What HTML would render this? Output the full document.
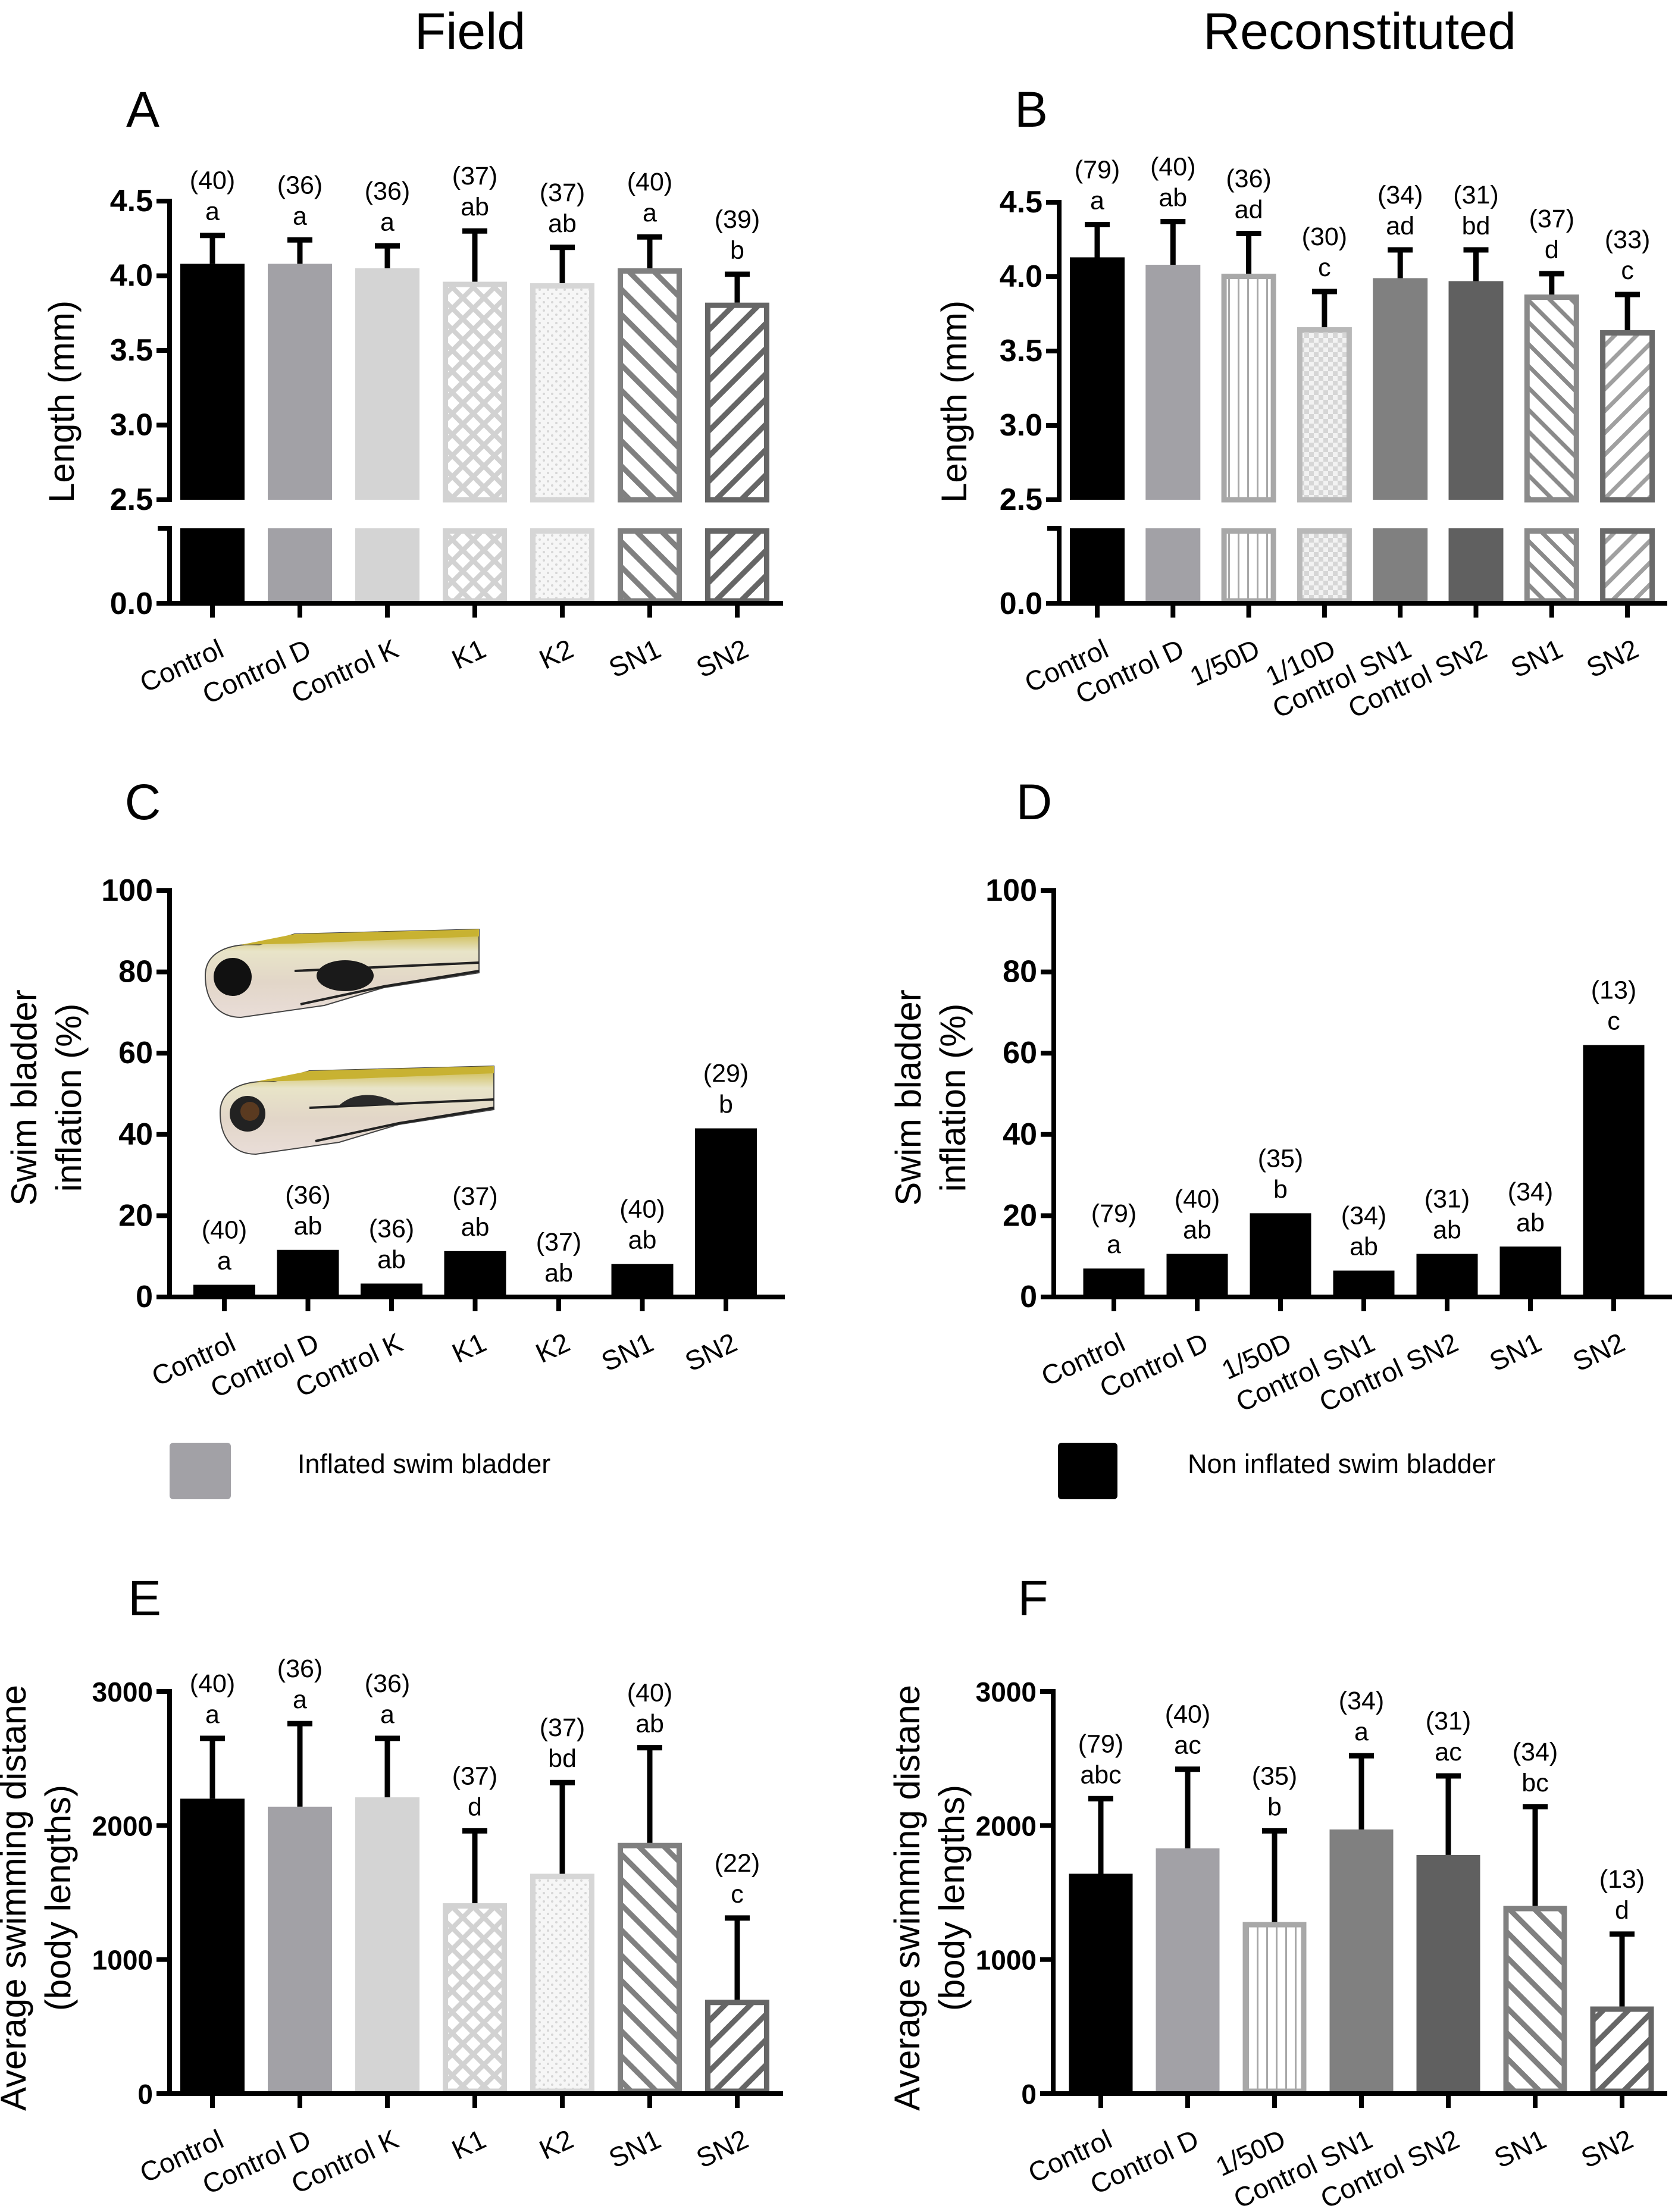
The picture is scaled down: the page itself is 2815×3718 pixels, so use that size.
<!DOCTYPE html>
<html><head><meta charset="utf-8"><title>Zebrafish larvae figure</title>
<style>
html,body{margin:0;padding:0;background:#fff;}
svg{display:block;font-family:"Liberation Sans",Arial,sans-serif;}
</style></head>
<body>
<svg id="fig" width="2815" height="3718" viewBox="0 0 2815 3718" xmlns="http://www.w3.org/2000/svg">
<defs>
<pattern id="pBack" patternUnits="userSpaceOnUse" width="30" height="30" patternTransform="rotate(-45)"><rect width="30" height="30" fill="#fff"/><rect x="0" y="0" width="9" height="30" fill="#808080"/></pattern>
<pattern id="pBackB" patternUnits="userSpaceOnUse" width="26" height="26" patternTransform="rotate(-45)"><rect width="26" height="26" fill="#fff"/><rect x="0" y="0" width="7" height="26" fill="#8a8a8a"/></pattern>
<pattern id="pFwd" patternUnits="userSpaceOnUse" width="30" height="30" patternTransform="rotate(45)"><rect width="30" height="30" fill="#fff"/><rect x="0" y="0" width="9" height="30" fill="#666"/></pattern>
<pattern id="pFwdB" patternUnits="userSpaceOnUse" width="26" height="26" patternTransform="rotate(45)"><rect width="26" height="26" fill="#fff"/><rect x="0" y="0" width="7" height="26" fill="#a0a0a0"/></pattern>
<pattern id="pCross" patternUnits="userSpaceOnUse" width="25" height="25" patternTransform="rotate(45)"><rect width="25" height="25" fill="#fff"/><rect x="0" y="0" width="8" height="25" fill="#d2d2d2"/><rect x="0" y="0" width="25" height="8" fill="#d2d2d2"/></pattern>
<pattern id="pDots" patternUnits="userSpaceOnUse" width="14" height="14"><rect width="14" height="14" fill="#f6f6f6"/><circle cx="4" cy="4" r="2" fill="#d6d6d6"/><circle cx="11" cy="11" r="2" fill="#d6d6d6"/></pattern>
<pattern id="pVert" patternUnits="userSpaceOnUse" width="16" height="16"><rect width="16" height="16" fill="#fff"/><rect x="0" y="0" width="3" height="16" fill="#a8a8a8"/></pattern>
<pattern id="pCheck" patternUnits="userSpaceOnUse" width="16" height="16"><rect width="16" height="16" fill="#f2f2f2"/><rect x="0" y="0" width="8" height="8" fill="#d6d6d6"/><rect x="8" y="8" width="8" height="8" fill="#d6d6d6"/></pattern>
<linearGradient id="gBody" x1="0" y1="0" x2="0" y2="1"><stop offset="0" stop-color="#c9b43a"/><stop offset="0.25" stop-color="#e8e4c8"/><stop offset="0.6" stop-color="#e2d6c8"/><stop offset="1" stop-color="#e9ddd8"/></linearGradient>
</defs>
</svg>
<script>
// ---------- Panel A data ----------
const A_cats = ["Control","Control D","Control K","K1","K2","SN1","SN2"];
const A_vals = [4.08,4.08,4.05,3.96,3.95,4.05,3.82];
const A_errTop = [4.27,4.24,4.20,4.30,4.19,4.26,4.01];
const A_ns = ["(40)","(36)","(36)","(37)","(37)","(40)","(39)"];
const A_letters = ["a","a","a","ab","ab","a","b"];
const A_ticks = [2.5,3.0,3.5,4.0,4.5];
// ---------- Panel B data ----------
const B_cats = ["Control","Control D","1/50D","1/10D","Control SN1","Control SN2","SN1","SN2"];
const B_vals = [4.13,4.08,4.02,3.66,3.99,3.97,3.88,3.64];
const B_errTop = [4.35,4.37,4.29,3.90,4.18,4.18,4.02,3.88];
const B_ns = ["(79)","(40)","(36)","(30)","(34)","(31)","(37)","(33)"];
const B_letters = ["a","ab","ad","c","ad","bd","d","c"];
const B_ticks = [2.5,3.0,3.5,4.0,4.5];
// ---------- Panel C data ----------
const C_cats = ["Control","Control D","Control K","K1","K2","SN1","SN2"];
const C_vals = [3,11.6,3.3,11.3,0,8.1,41.5];
const C_ns = ["(40)","(36)","(36)","(37)","(37)","(40)","(29)"];
const C_letters = ["a","ab","ab","ab","ab","ab","b"];
const C_ticks = [0,20,40,60,80,100];
// ---------- Panel D data ----------
const D_cats = ["Control","Control D","1/50D","Control SN1","Control SN2","SN1","SN2"];
const D_vals = [7,10.6,20.6,6.5,10.6,12.4,62];
const D_ns = ["(79)","(40)","(35)","(34)","(31)","(34)","(13)"];
const D_letters = ["a","ab","b","ab","ab","ab","c"];
const D_ticks = [0,20,40,60,80,100];
// ---------- Panel E data ----------
const E_cats = ["Control","Control D","Control K","K1","K2","SN1","SN2"];
const E_vals = [2200,2140,2210,1420,1640,1870,700];
const E_errTop = [2650,2760,2650,1960,2320,2580,1310];
const E_ns = ["(40)","(36)","(36)","(37)","(37)","(40)","(22)"];
const E_letters = ["a","a","a","d","bd","ab","c"];
const E_ticks = [0,1000,2000,3000];
// ---------- Panel F data ----------
const F_cats = ["Control","Control D","1/50D","Control SN1","Control SN2","SN1","SN2"];
const F_vals = [1640,1830,1280,1970,1780,1400,650];
const F_errTop = [2200,2420,1960,2520,2370,2140,1190];
const F_ns = ["(79)","(40)","(35)","(34)","(31)","(34)","(13)"];
const F_letters = ["abc","ac","b","a","ac","bc","d"];
const F_ticks = [0,1000,2000,3000];

const S = {
  black:{fill:"#000"}, gray:{fill:"#a2a1a6"}, light:{fill:"#d4d4d4"},
  cross:{fill:"url(#pCross)",stroke:"#d2d2d2"}, dots:{fill:"url(#pDots)",stroke:"#d6d6d6"},
  back:{fill:"url(#pBack)",stroke:"#808080"}, fwd:{fill:"url(#pFwd)",stroke:"#666"},
  backB:{fill:"url(#pBackB)",stroke:"#8a8a8a"}, fwdB:{fill:"url(#pFwdB)",stroke:"#6a6a6a"},
  vert:{fill:"url(#pVert)",stroke:"#a8a8a8"}, check:{fill:"url(#pCheck)",stroke:"#b8b8b8"},
  mid:{fill:"#808080"}, dark:{fill:"#606060"}
};
const fieldStyles = [S.black,S.gray,S.light,S.cross,S.dots,S.back,S.fwd];

const NS = "http://www.w3.org/2000/svg";
const fig = document.getElementById('fig');
function mk(tag, attrs, parent){
  const e = document.createElementNS(NS, tag);
  for (const k in attrs) e.setAttribute(k, attrs[k]);
  (parent||fig).appendChild(e);
  return e;
}
function txt(str, attrs, parent){
  const t = mk('text', attrs, parent);
  t.textContent = str;
  return t;
}
function linScale(d0,d1,r0,r1){ return v => r0 + (v-d0)/(d1-d0)*(r1-r0); }

function drawChart(id, cfg, cats, vals, errTop, ns, letters, ticks, styles, tickFmt){
  const g = mk('g', {});
  
  
  const tfs = cfg.tickFont || 52;
  const y = cfg.broken ? linScale(2.5, 4.5, cfg.yLow, cfg.yHigh) : linScale(ticks[0], ticks[ticks.length-1], cfg.zero, cfg.yHigh);
  const base = cfg.broken ? cfg.yLow : cfg.zero;
  cats.forEach((c,i)=>{
    const cx = cfg.first + i*cfg.step;
    const st = styles[i];
    const x = cx - cfg.bw/2;
    const top = y(vals[i]);
    const segs = cfg.broken ? [[top, base],[cfg.breakTop, cfg.zero-4]] : [[top, cfg.zero-4]];
    segs.forEach(([t,b])=>{
      if (b - t <= 0.5) return;
      const r = st.stroke ? mk('rect',{x:x+4.5,y:t+4.5,width:cfg.bw-9,height:Math.max(0,b-t-4.5),fill:st.fill,stroke:st.stroke,'stroke-width':9}, g)
                          : mk('rect',{x:x,y:t,width:cfg.bw,height:b-t,fill:st.fill}, g);
      
      
    });
    let labelY = top;
    if (errTop){
      const et = y(errTop[i]);
      const eb = mk('path',{d:`M${cx} ${top} V${et} M${cx-21} ${et} H${cx+21}`,stroke:'#000','stroke-width':9,fill:'none'}, g);
      
      
      labelY = et;
    }
    const lt = txt(letters[i], {x:cx, y:labelY-26, 'font-size':43, 'text-anchor':'middle', fill:'#000'}, g);
    
    
    const nt = txt(ns[i], {x:cx, y:labelY-78, 'font-size':43, 'text-anchor':'middle', fill:'#000'}, g);
    
    
    const xt = mk('line',{x1:cx,y1:cfg.zero,x2:cx,y2:cfg.zero+24,stroke:'#000','stroke-width':8}, g);
    
    
    const xl = txt(c, {transform:`translate(${cx+22},${cfg.zero+88}) rotate(-25)`, 'font-size':46, 'text-anchor':'end', fill:'#000'}, g);
    
    
  });
  const xa = mk('line',{x1:cfg.ax-4,y1:cfg.zero,x2:cfg.axEnd,y2:cfg.zero,stroke:'#000','stroke-width':8}, g);
  
  
  const ya = mk('line',{x1:cfg.ax,y1:cfg.yHigh-4,x2:cfg.ax,y2:cfg.broken?cfg.yLow+4:cfg.zero,stroke:'#000','stroke-width':8}, g);
  
  
  if (cfg.broken){
    const yl = mk('path',{d:`M${cfg.ax} ${cfg.breakTop} V${cfg.zero} M${cfg.ax-20} ${cfg.breakTop} H${cfg.ax+4}`,stroke:'#000','stroke-width':8,fill:'none'}, g);
    
    
    const z = mk('line',{x1:cfg.ax-22,y1:cfg.zero,x2:cfg.ax,y2:cfg.zero,stroke:'#000','stroke-width':8}, g);
    
    
    const zl = txt('0.0', {x:cfg.ax-28, y:cfg.zero+18, 'font-size':tfs,'font-weight':'bold','text-anchor':'end'}, g);
    
    
  }
  ticks.forEach(t=>{
    const ty = y(t);
    const tk = mk('line',{x1:cfg.ax-22,y1:ty,x2:cfg.ax,y2:ty,stroke:'#000','stroke-width':8}, g);
    
    
    const tl = txt(tickFmt(t), {x:cfg.ax-28, y:ty+17, 'font-size':tfs,'font-weight':'bold','text-anchor':'end'}, g);
    
    
  });
  const yt = txt('', {transform:`translate(${cfg.titleX},${cfg.titleY}) rotate(-90)`, 'font-size':60,'text-anchor':'middle'}, g);
  
  
  cfg.title.forEach((line,k)=>{
    const ts = mk('tspan',{x:0, dy: k===0 ? (-(cfg.title.length-1)*29) : 75}, yt);
    ts.textContent = line;
  });
}
const f1 = v => v.toFixed(1);
const f0 = v => String(v);

drawChart('panel-a-chart', {broken:true, ax:285, axEnd:1316, first:357, step:147, bw:108, yHigh:338, yLow:840, breakTop:888, zero:1014, titleX:124, titleY:675, title:['Length (mm)']},
  A_cats, A_vals, A_errTop, A_ns, A_letters, A_ticks, fieldStyles, f1);
drawChart('panel-b-chart', {broken:true, ax:1780, axEnd:2802, first:1844, step:127.3, bw:92, yHigh:340, yLow:840, breakTop:888, zero:1014, titleX:1624, titleY:675, title:['Length (mm)']},
  B_cats, B_vals, B_errTop, B_ns, B_letters, B_ticks, [S.black,S.gray,S.vert,S.check,S.mid,S.dark,S.backB,S.fwdB], f1);
drawChart('panel-c-chart', {ax:285, axEnd:1319, first:377, step:140.5, bw:104, yHigh:1497, zero:2180, titleX:90, titleY:1845, title:['Swim bladder','inflation (%)']},
  C_cats, C_vals, null, C_ns, C_letters, C_ticks, C_cats.map(()=>S.black), f0);
drawChart('panel-d-chart', {ax:1771, axEnd:2810, first:1872, step:140, bw:103, yHigh:1497, zero:2180, titleX:1576, titleY:1845, title:['Swim bladder','inflation (%)']},
  D_cats, D_vals, null, D_ns, D_letters, D_ticks, D_cats.map(()=>S.black), f0);
drawChart('panel-e-chart', {ax:285, axEnd:1316, first:357, step:147, bw:108, yHigh:2843, zero:3519, tickFont:46, titleX:72, titleY:3190, title:['Average swimming distane','(body lengths)']},
  E_cats, E_vals, E_errTop, E_ns, E_letters, E_ticks, fieldStyles, f0);
drawChart('panel-f-chart', {ax:1770, axEnd:2802, first:1850, step:146, bw:107, yHigh:2843, zero:3519, tickFont:46, titleX:1574, titleY:3190, title:['Average swimming distane','(body lengths)']},
  F_cats, F_vals, F_errTop, F_ns, F_letters, F_ticks, [S.black,S.gray,S.vert,S.mid,S.dark,S.back,S.fwd], f0);

[['Field',790,82,'column-title-field'],['Reconstituted',2285,82,'column-title-reconstituted']].forEach(([s,x,yy,n])=>{
  const t = txt(s,{x:x,y:yy,'font-size':86,'text-anchor':'middle'});
  
  
});
[['A',240,213],['B',1733,213],['C',240,1377],['D',1738,1377],['E',243,2715],['F',1736,2715]].forEach(([s,x,yy])=>{
  const t = txt(s,{x:x,y:yy,'font-size':84,'text-anchor':'middle'});
  
  
});

const lg1 = mk('rect',{x:285,y:2425,width:103,height:95,rx:6,fill:'#a2a1a6'});


const lt1 = txt('Inflated swim bladder',{x:500,y:2476,'font-size':45});


const lg2 = mk('rect',{x:1778,y:2425,width:100,height:95,rx:6,fill:'#000'});


const lt2 = txt('Non inflated swim bladder',{x:1996,y:2476,'font-size':45});



function fish(ox, oy, inflated, name){
  const g = mk('g',{transform:`translate(${ox},${oy})`});
  
  
  mk('path',{d:'M0 80 C0 40 40 25 90 28 L150 10 L460 2 L460 75 L300 100 L200 130 L60 150 C20 150 0 120 0 80 Z',fill:'url(#gBody)',stroke:'#444','stroke-width':2}, g);
  mk('path',{d:'M60 28 L150 10 L460 2 L460 14 L150 26 Z',fill:'#c8b232'}, g);
  mk('path',{d:'M150 72 L460 58 M160 128 L300 98 L460 72',stroke:'#222','stroke-width':4,fill:'none'}, g);
  mk('circle',{cx:46,cy:82,r:inflated?32:30,fill:inflated?'#111':'#222'}, g);
  if(!inflated) mk('circle',{cx:50,cy:78,r:16,fill:'#5a3a20'}, g);
  if(inflated) mk('ellipse',{cx:235,cy:80,rx:48,ry:26,fill:'#1a1a1a'}, g);
  else mk('path',{d:'M200 68 C230 40 280 50 300 68 Z',fill:'#2a2a2a'}, g);
}
fish(345,1560,true,'fish-inflated-image');
fish(370,1790,false,'fish-non-inflated-image');
</script>
</body></html>
